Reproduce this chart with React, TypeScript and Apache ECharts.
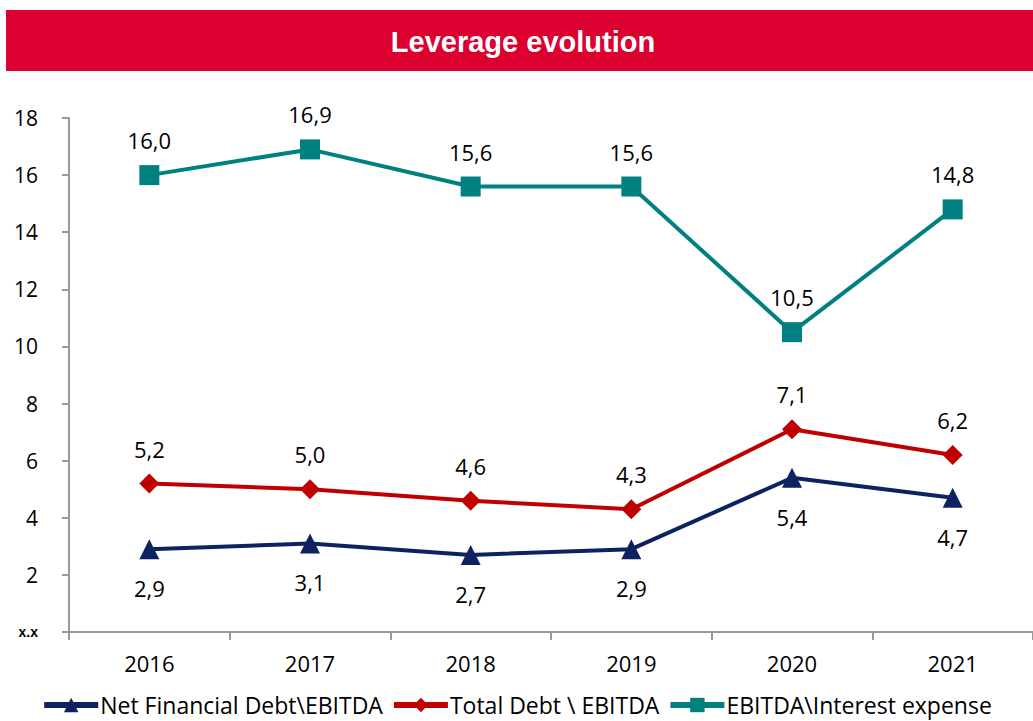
import React, { useEffect, useRef } from "react";
import * as echarts from "echarts";

const categories = ["2016", "2017", "2018", "2019", "2020", "2021"];
const netFinancialDebt = [2.9, 3.1, 2.7, 2.9, 5.4, 4.7];
const totalDebt = [5.2, 5.0, 4.6, 4.3, 7.1, 6.2];
const ebitdaInterest = [16.0, 16.9, 15.6, 15.6, 10.5, 14.8];
const seriesNames = ["Net Financial Debt\\EBITDA", "Total Debt \\ EBITDA", "EBITDA\\Interest expense"];
const title = "Leverage evolution";

const fmt = (v: number) => v.toFixed(1).replace(".", ",");

export default function App() {
  const ref = useRef<HTMLDivElement>(null);
  useEffect(() => {
    const chart = echarts.init(ref.current!, null, { renderer: "svg" });
    const labelBase = {
      show: true,
      fontFamily: "Open Sans",
      fontSize: 22,
      color: "#000",
      formatter: (p: any) => fmt(p.value),
    };
    chart.setOption({
      animation: false,
      graphic: [
        { type: "rect", left: 6, top: 10, shape: { width: 1027, height: 61 }, style: { fill: "#DC0030" } },
        {
          type: "text",
          x: 523,
          y: 42,
          style: {
            text: title,
            fill: "#fff",
            font: "bold 29px 'Liberation Sans', Arial",
            align: "center",
            verticalAlign: "middle",
          },
        },
      ],
      grid: { left: 69, right: -2, top: 118, bottom: 89 },
      xAxis: {
        type: "category",
        data: categories,
        boundaryGap: true,
        axisLine: { lineStyle: { color: "#999", width: 2 } },
        axisTick: { show: true, length: 8, lineStyle: { color: "#999", width: 2 }, alignWithLabel: false },
        axisLabel: { fontFamily: "Open Sans", fontSize: 22, color: "#000", margin: 20 },
      },
      yAxis: {
        type: "value",
        min: 0,
        max: 18,
        interval: 2,
        splitLine: { show: false },
        axisLine: { show: true, lineStyle: { color: "#999", width: 2 } },
        axisTick: { show: true, length: 7, lineStyle: { color: "#999", width: 2 } },
        axisLabel: {
          fontFamily: "Open Sans",
          fontSize: 21,
          color: "#000",
          margin: 31,
          formatter: (v: number) => (v === 0 ? "{b|x.x}" : String(v)),
          rich: { b: { fontFamily: "Liberation Sans", fontSize: 14, fontWeight: "bold", color: "#000" } },
        },
      },
      legend: {
        bottom: 4,
        left: "center",
        padding: 0,
        itemWidth: 54,
        itemHeight: 18,
        itemGap: 8,
        lineStyle: { width: 6 },
        textStyle: { fontFamily: "Open Sans", fontSize: 23, lineHeight: 24, color: "#000", padding: [0, 0, 0, -3] },
        data: seriesNames,
      },
      series: [
        {
          name: seriesNames[0],
          type: "line",
          data: netFinancialDebt,
          symbol: "triangle",
          symbolSize: 20,
          itemStyle: { color: "#0E2262" },
          lineStyle: { color: "#0E2262", width: 4 },
          label: { ...labelBase, position: "bottom", distance: 18 },
        },
        {
          name: seriesNames[1],
          type: "line",
          data: totalDebt,
          symbol: "diamond",
          symbolSize: 20,
          itemStyle: { color: "#C00000" },
          lineStyle: { color: "#C00000", width: 4 },
          label: { ...labelBase, position: "top", distance: 14 },
        },
        {
          name: seriesNames[2],
          type: "line",
          data: ebitdaInterest,
          symbol: "rect",
          symbolSize: 20,
          itemStyle: { color: "#008080" },
          lineStyle: { color: "#008080", width: 4 },
          label: { ...labelBase, position: "top", distance: 14 },
        },
      ],
    });
    return () => chart.dispose();
  }, []);
  return <div ref={ref} style={{ width: 1033, height: 721, position: "absolute", left: 0, top: 0 }} />;
}
